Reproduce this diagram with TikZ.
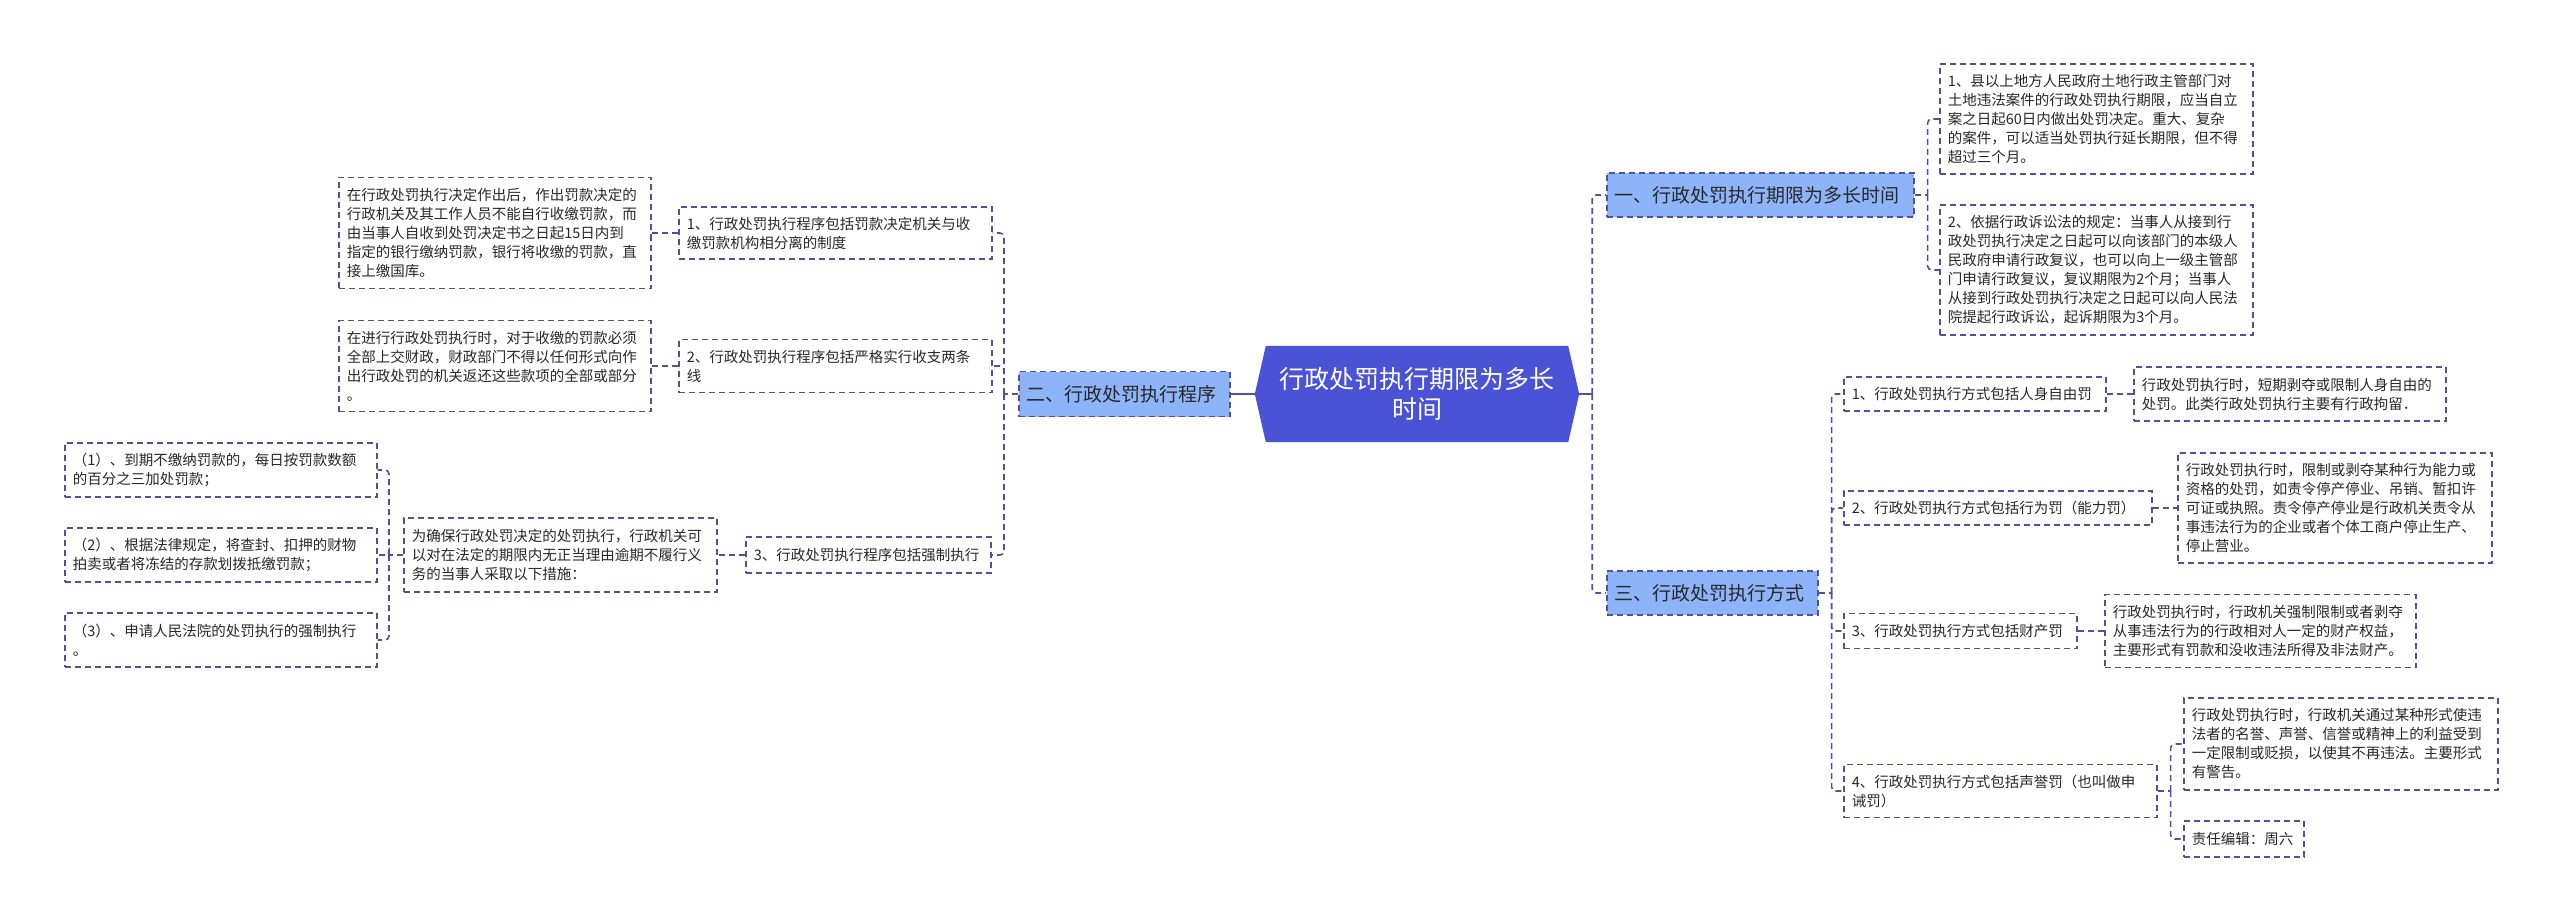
\documentclass[tikz,border=0pt]{standalone}
\usepackage{fontspec}
\setmainfont{Noto Sans CJK SC}
\usetikzlibrary{backgrounds}
\definecolor{bd}{RGB}{80,80,160}
\definecolor{rootfill}{RGB}{74,82,214}
\definecolor{brfill}{RGB}{141,180,248}
\definecolor{txt}{RGB}{40,40,40}
\tikzset{
  box/.style={draw=bd, line width=1.6pt, dash pattern=on 6pt off 4pt, anchor=west,
    inner xsep=8pt, inner ysep=0pt, align=left, text=txt,
    font=\fontsize{14.5}{19}\selectfont},
  brn/.style={box, fill=brfill, font=\fontsize{19}{24}\selectfont},
  rootn/.style={text=white, font=\fontsize{25}{30}\selectfont, align=center,
    minimum width=324pt, minimum height=96pt, inner sep=0pt, text width=300pt},
  conn/.style={draw=bd, line width=1.6pt, dash pattern=on 6pt off 4pt, rounded corners=4pt},
  solidc/.style={draw=bd, line width=2pt}
}
\begin{document}
\begin{tikzpicture}[x=1pt,y=-1pt]
\useasboundingbox (0,0) rectangle (2560,920);

\node[rootn] (root) at (1417,394) {行政处罚执行期限为多长\\时间};
\begin{scope}[on background layer]
\fill[white] (0,0) rectangle (2560,920);
\fill[rootfill] (root.west) -- ([xshift=11pt]root.north west) -- ([xshift=-11pt]root.north east) -- (root.east) -- ([xshift=-11pt]root.south east) -- ([xshift=11pt]root.south west) -- cycle;
\end{scope}

% main branches
\node[brn, minimum height=44pt, text width=291pt] (b1) at (1606,195) {一、行政处罚执行期限为多长时间};
\node[brn, minimum height=44pt, text width=195pt] (b3) at (1606,593) {三、行政处罚执行方式};
\node[brn, minimum height=45pt, text width=195pt] (b2) at (1018,394) {二、行政处罚执行程序};

% right: branch 1
\node[box, minimum height=110pt, text width=297pt] (r1a) at (1939,119) {1、县以上地方人民政府土地行政主管部门对\\土地违法案件的行政处罚执行期限，应当自立\\案之日起60日内做出处罚决定。重大、复杂\\的案件，可以适当处罚执行延长期限，但不得\\超过三个月。};
\node[box, minimum height=130pt, text width=297pt] (r1b) at (1939,270) {2、依据行政诉讼法的规定：当事人从接到行\\政处罚执行决定之日起可以向该部门的本级人\\民政府申请行政复议，也可以向上一级主管部\\门申请行政复议，复议期限为2个月；当事人\\从接到行政处罚执行决定之日起可以向人民法\\院提起行政诉讼，起诉期限为3个月。};

% right: branch 3
\node[box, minimum height=34pt, text width=246pt] (c1) at (1843,394) {1、行政处罚执行方式包括人身自由罚};
\node[box, minimum height=34pt, text width=292pt] (c2) at (1843,508) {2、行政处罚执行方式包括行为罚（能力罚）};
\node[box, minimum height=35pt, text width=217pt] (c3) at (1843,631) {3、行政处罚执行方式包括财产罚};
\node[box, minimum height=53pt, text width=297pt] (c4) at (1843,791) {4、行政处罚执行方式包括声誉罚（也叫做申\\诫罚）};

\node[box, minimum height=54pt, text width=296pt] (d1) at (2133,394) {行政处罚执行时，短期剥夺或限制人身自由的\\处罚。此类行政处罚执行主要有行政拘留．};
\node[box, minimum height=110pt, text width=298pt] (d2) at (2177,508) {行政处罚执行时，限制或剥夺某种行为能力或\\资格的处罚，如责令停产停业、吊销、暂扣许\\可证或执照。责令停产停业是行政机关责令从\\事违法行为的企业或者个体工商户停止生产、\\停止营业。};
\node[box, minimum height=73pt, text width=295pt] (d3) at (2104,631) {行政处罚执行时，行政机关强制限制或者剥夺\\从事违法行为的行政相对人一定的财产权益，\\主要形式有罚款和没收违法所得及非法财产。};
\node[box, minimum height=92pt, text width=298pt] (d4a) at (2183,744) {行政处罚执行时，行政机关通过某种形式使违\\法者的名誉、声誉、信誉或精神上的利益受到\\一定限制或贬损，以使其不再违法。主要形式\\有警告。};
\node[box, minimum height=36pt, text width=104pt] (d4b) at (2183,839) {责任编辑：周六};

% left: branch 2
\node[box, minimum height=52pt, text width=297pt] (l1c) at (678,233) {1、行政处罚执行程序包括罚款决定机关与收\\缴罚款机构相分离的制度};
\node[box, minimum height=111pt, text width=296pt] (l1l) at (338,233) {在行政处罚执行决定作出后，作出罚款决定的\\行政机关及其工作人员不能自行收缴罚款，而\\由当事人自收到处罚决定书之日起15日内到\\指定的银行缴纳罚款，银行将收缴的罚款，直\\接上缴国库。};
\node[box, minimum height=53pt, text width=297pt] (l2c) at (678,366) {2、行政处罚执行程序包括严格实行收支两条\\线};
\node[box, minimum height=91pt, text width=296pt] (l2l) at (338,366) {在进行行政处罚执行时，对于收缴的罚款必须\\全部上交财政，财政部门不得以任何形式向作\\出行政处罚的机关返还这些款项的全部或部分\\。};
\node[box, minimum height=36pt, text width=229pt] (l3c) at (745,555) {3、行政处罚执行程序包括强制执行};
\node[box, minimum height=74pt, text width=297pt] (m) at (403,555) {为确保行政处罚决定的处罚执行，行政机关可\\以对在法定的期限内无正当理由逾期不履行义\\务的当事人采取以下措施：};
\node[box, minimum height=54pt, text width=296pt] (p1) at (64,470) {（1）、到期不缴纳罚款的，每日按罚款数额\\的百分之三加处罚款；};
\node[box, minimum height=54pt, text width=296pt] (p2) at (64,555) {（2）、根据法律规定，将查封、扣押的财物\\拍卖或者将冻结的存款划拨抵缴罚款；};
\node[box, minimum height=54pt, text width=296pt] (p3) at (64,640) {（3）、申请人民法院的处罚执行的强制执行\\。};

% connectors
\draw[solidc] (root.west) -- (b2.east);
\draw[solidc] (root.east) -- ++(13,0) coordinate (rs);
\draw[conn] (rs) |- (b1.west);
\draw[conn] (rs) |- (b3.west);

\draw[conn] (b1.east) -- ++(13,0) coordinate (s1);
\draw[conn] (s1) |- (r1a.west);
\draw[conn] (s1) |- (r1b.west);

\draw[conn] (b3.east) -- ++(13,0) coordinate (s3);
\draw[conn] (s3) |- (c1.west);
\draw[conn] (s3) |- (c2.west);
\draw[conn] (s3) |- (c3.west);
\draw[conn] (s3) |- (c4.west);
\draw[conn] (c1.east) -- (d1.west);
\draw[conn] (c2.east) -- (d2.west);
\draw[conn] (c3.east) -- (d3.west);
\draw[conn] (c4.east) -- ++(13,0) coordinate (s4);
\draw[conn] (s4) |- (d4a.west);
\draw[conn] (s4) |- (d4b.west);

\draw[conn] (b2.west) -- ++(-14,0) coordinate (s2);
\draw[conn] (s2) |- (l1c.east);
\draw[conn] (s2) |- (l2c.east);
\draw[conn] (s2) |- (l3c.east);
\draw[conn] (l1c.west) -- (l1l.east);
\draw[conn] (l2c.west) -- (l2l.east);
\draw[conn] (l3c.west) -- (m.east);
\draw[conn] (m.west) -- ++(-14,0) coordinate (sm);
\draw[conn] (sm) |- (p1.east);
\draw[conn] (sm) |- (p2.east);
\draw[conn] (sm) |- (p3.east);
\end{tikzpicture}
\end{document}
